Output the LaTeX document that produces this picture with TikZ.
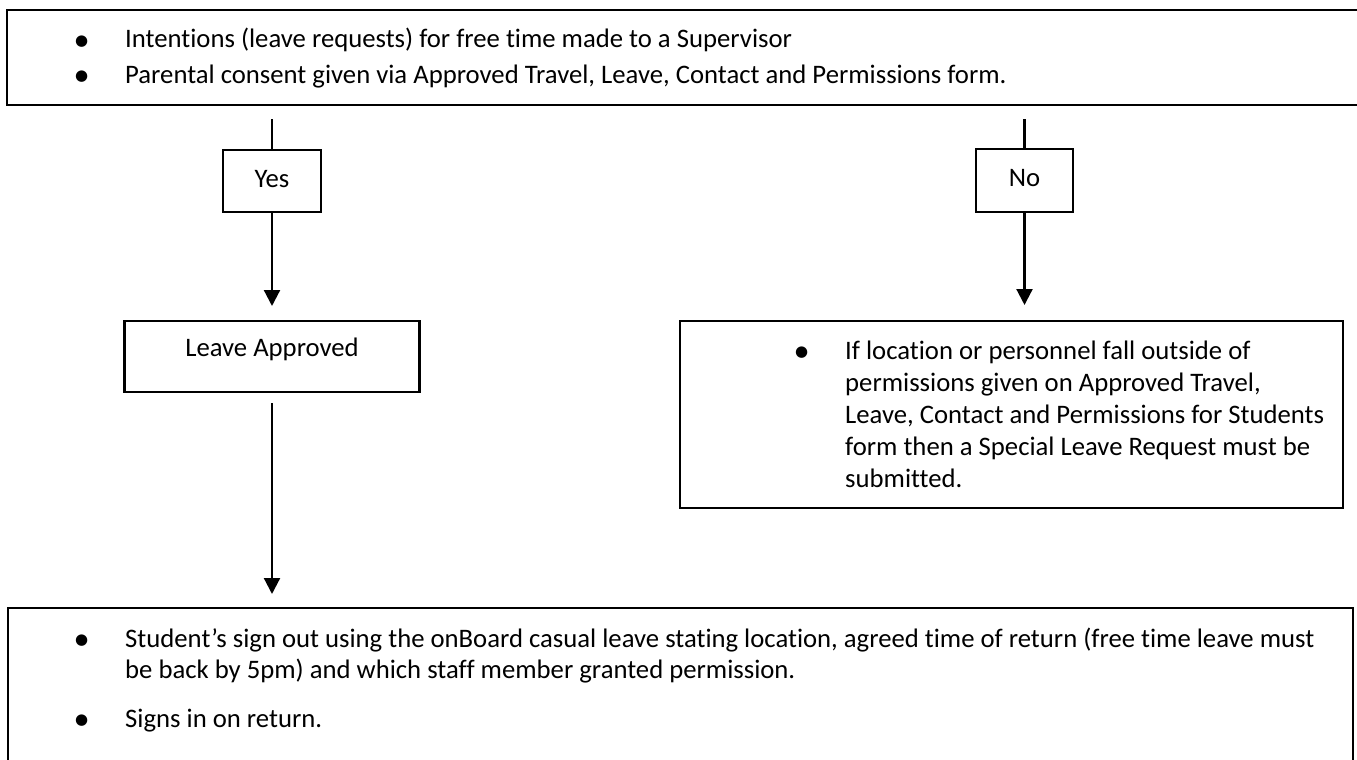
\documentclass[tikz,border=0pt]{standalone}
\usepackage{fontspec}
\setmainfont{Carlito}[Ligatures=NoCommon]
\newfontfamily\dejavu{DejaVu Sans}
\usetikzlibrary{arrows.meta}
\newcommand{\bulletmark}{\makebox[47pt][l]{\hspace{-3pt}\raisebox{2.5pt}{\dejavu\fontsize{15pt}{15pt}\selectfont ●}}}
\begin{document}
\begin{tikzpicture}[x=1pt,y=-1pt,
  box/.style={draw, line width=2.2pt, inner sep=0pt, outer sep=0pt},
  conn/.style={line width=2.2pt},
  arr/.style={line width=2.2pt, -{Triangle[width=16pt,length=16pt]}},
  txt/.style={anchor=base west, inner sep=0pt, font=\fontsize{26.7pt}{32pt}\selectfont},
  lbl/.style={font=\fontsize{26.7pt}{32pt}\selectfont}
]
\useasboundingbox (0,0) rectangle (1357,760);
\fill[white] (0,0) rectangle (1357,760);
\begin{scope}
\clip (0,0) rectangle (1357,760);
% boxes
\node[box, minimum width=1400pt, minimum height=95pt] (top) at (707,57.5) {};
\node[box, lbl, minimum width=98pt, minimum height=62pt, text depth=5pt] (yes) at (272,181) {Yes};
\node[box, lbl, minimum width=97pt, minimum height=63pt, text depth=5pt] (no) at (1024.5,180.5) {No};
\node[box, lbl, minimum width=295pt, minimum height=71pt, text height=18pt, text depth=18pt] (appr) at (272,356.5) {Leave Approved};
\node[box, minimum width=663pt, minimum height=187pt] (right) at (1011.5,414.5) {};
\node[box, minimum width=1345pt, minimum height=192pt] (bot) at (680.5,704) {};
% texts
\node[txt] (top1) at (78,48) {\bulletmark Intentions (leave requests) for free time made to a Supervisor};
\node[txt] (top2) at (78,83) {\bulletmark Parental consent given via Approved Travel, Leave, Contact and Permissions form.};
\node[txt] (r1) at (798,359) {\bulletmark\parbox[t]{520pt}{If location or personnel fall outside of\\permissions given on Approved Travel,\\Leave, Contact and Permissions for Students\\form then a Special Leave Request must be\\submitted.}};
\node[txt, font=\fontsize{26.7pt}{31pt}\selectfont] (b1) at (78,647) {\bulletmark\parbox[t]{1260pt}{Student’s sign out using the onBoard casual leave stating location, agreed time of return (free time leave must\\be back by 5pm) and which staff member granted permission.}};
\node[txt] (b2) at (78,727) {\bulletmark Signs in on return.};
% connectors
\coordinate (ys) at (272,119);
\coordinate (ns) at (1024.5,119);
\draw[conn] (ys) -- (yes.north);
\draw[arr, shorten >=15pt] (yes.south) -- (yes.south |- appr.north);
\draw[conn] (ns) -- (no.north);
\draw[arr, shorten >=16pt] (no.south) -- (no.south |- right.north);
\draw[arr, shorten <=11pt, shorten >=14pt] (appr.south) -- (appr.south |- bot.north);
\end{scope}
\end{tikzpicture}
\end{document}
